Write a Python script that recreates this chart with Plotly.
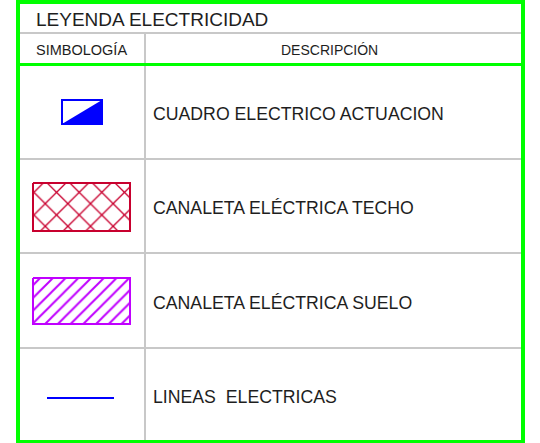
import plotly.graph_objects as go

# ---- data ----
title_text = "LEYENDA ELECTRICIDAD"
header_labels = ["SIMBOLOGÍA", "DESCRIPCIÓN"]
row_labels = [
    "CUADRO ELECTRICO ACTUACION",
    "CANALETA ELÉCTRICA TECHO",
    "CANALETA ELÉCTRICA SUELO",
    "LINEAS  ELECTRICAS",
]
symbol_colors = ["#0000FF", "#C8002E", "#C000FF", "#0000FF"]

# ---- layout geometry (pixels) ----
W, H = 540, 443
X0, X1 = 18, 523          # outer frame
XDIV = 145                # column divider
Y_TITLE_BOT = 33
Y_HEAD_BOT = 64.5
ROW_EDGES = [64.5, 159, 253, 348, 442]
GREEN = "#00FF00"
GRAY = "#C8C8C8"
TXT = "#1e1e1e"
FONT = "Liberation Sans"

fig = go.Figure()
shapes = []
ann = []

# grid lines
shapes.append(dict(type="line", x0=X0, x1=X1 + 2, y0=Y_TITLE_BOT, y1=Y_TITLE_BOT,
                   line=dict(color=GRAY, width=2)))
for y in ROW_EDGES[1:-1]:
    shapes.append(dict(type="line", x0=X0, x1=X1, y0=y, y1=y,
                       line=dict(color=GRAY, width=2)))
shapes.append(dict(type="line", x0=XDIV, x1=XDIV, y0=Y_TITLE_BOT, y1=ROW_EDGES[-1],
                   line=dict(color=GRAY, width=2)))
# green separator under header
shapes.append(dict(type="line", x0=X0, x1=X1, y0=Y_HEAD_BOT, y1=Y_HEAD_BOT,
                   line=dict(color=GREEN, width=3)))
# outer frame
shapes.append(dict(type="rect", x0=X0, x1=X1, y0=2, y1=ROW_EDGES[-1],
                   line=dict(color=GREEN, width=4)))

# texts
ann.append(dict(x=34, y=(2 + Y_TITLE_BOT) / 2 + 2, text=title_text, xanchor="left",
                yanchor="middle", showarrow=False,
                font=dict(family=FONT, size=19, color=TXT)))
ann.append(dict(x=34, y=(Y_TITLE_BOT + Y_HEAD_BOT) / 2 + 1.5, text=header_labels[0],
                xanchor="left", yanchor="middle", showarrow=False,
                font=dict(family=FONT, size=14.5, color=TXT)))
ann.append(dict(x=329, y=(Y_TITLE_BOT + Y_HEAD_BOT) / 2 + 1.5,
                text=header_labels[1], xanchor="center", yanchor="middle",
                showarrow=False, font=dict(family=FONT, size=14, color=TXT)))
for i, lab in enumerate(row_labels):
    yc = (ROW_EDGES[i] + ROW_EDGES[i + 1]) / 2
    ann.append(dict(x=151, y=yc + 2, text=lab, xanchor="left", yanchor="middle",
                    showarrow=False, font=dict(family=FONT, size=17.7, color=TXT)))

# symbol 1: electrical panel box (half filled)
c = symbol_colors[0]
fig.add_trace(go.Scatter(x=[62, 102, 102, 62], y=[124, 100, 124, 124], mode="lines",
                         fill="toself", fillcolor=c, line=dict(color=c, width=0),
                         hoverinfo="skip", showlegend=False))
shapes.append(dict(type="rect", x0=62, x1=102, y0=100, y1=124,
                   line=dict(color=c, width=2)))

# symbol 2: ceiling duct (crosshatch)
c = symbol_colors[1]
fig.add_trace(go.Scatter(x=[33, 130, 130, 33, 33], y=[183, 183, 231, 231, 183],
                         mode="lines", fill="toself", fillcolor="white",
                         fillpattern=dict(shape="x", fgcolor=c, bgcolor="white",
                                          fgopacity=1, size=16, solidity=0.16),
                         line=dict(color=c, width=2), hoverinfo="skip",
                         showlegend=False))

# symbol 3: floor duct (diagonal hatch)
c = symbol_colors[2]
fig.add_trace(go.Scatter(x=[33, 130, 130, 33, 33], y=[278, 278, 324, 324, 278],
                         mode="lines", fill="toself", fillcolor="white",
                         fillpattern=dict(shape="/", fgcolor=c, bgcolor="white",
                                          fgopacity=1, size=9, solidity=0.22),
                         line=dict(color=c, width=2), hoverinfo="skip",
                         showlegend=False))

# symbol 4: electrical line
c = symbol_colors[3]
fig.add_trace(go.Scatter(x=[47, 114], y=[398, 398], mode="lines",
                         line=dict(color=c, width=2), hoverinfo="skip",
                         showlegend=False))

fig.update_layout(
    width=W, height=H, margin=dict(l=0, r=0, t=0, b=0),
    paper_bgcolor="white", plot_bgcolor="white",
    xaxis=dict(range=[0, W], visible=False, fixedrange=True),
    yaxis=dict(range=[H, 0], visible=False, fixedrange=True),
    shapes=shapes, annotations=ann,
)
fig.write_html("out.html", config={"displayModeBar": False},
               post_script="document.body.style.margin='0';document.body.style.overflow='hidden';")
